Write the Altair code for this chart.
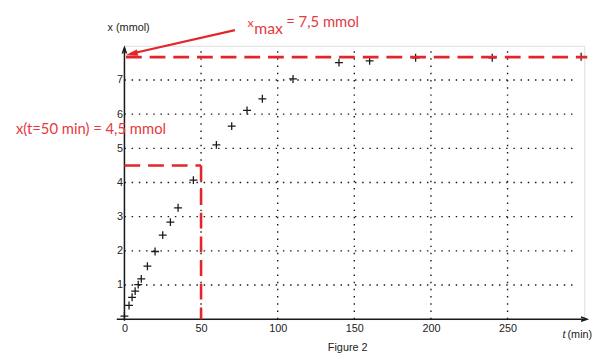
import altair as alt
import pandas as pd

# measured points (t in min, x in mmol)
t_vals = [0, 3, 5, 7, 9, 11, 15, 20, 25, 30, 35, 45, 60, 70, 80, 90, 110, 140, 160, 190, 240, 298]
x_vals = [0.09, 0.40, 0.64, 0.82, 1.01, 1.18, 1.55, 1.98, 2.46, 2.84, 3.26, 4.07, 5.10, 5.65,
          6.11, 6.45, 7.03, 7.51, 7.56, 7.65, 7.65, 7.68]

x_ticks = [0, 50, 100, 150, 200, 250]
y_ticks = [1, 2, 3, 4, 5, 6, 7]
t_grid_end = 295.5
x_grid_top = 8

x_max_line = 7.67
t_half = 50
x_half = 4.5

RED = "#e3262b"
RED_TXT = "#e5393e"
INK = "#1a1a1a"

sx = alt.Scale(domain=[0, 300], nice=False, zero=False)
sy = alt.Scale(domain=[0, 8], nice=False, zero=False)

AX = alt.Axis(values=x_ticks, domain=False, ticks=False, grid=False,
              labelFont="Liberation Sans", labelFontSize=11, labelColor="#222", labelPadding=4,
              labelFlush=False, title=None)
AY = alt.Axis(values=y_ticks, domain=False, ticks=False, grid=False,
              labelFont="Liberation Sans", labelFontSize=11, labelColor="#222", labelPadding=2,
              title=None)

pts = pd.DataFrame({"t": t_vals, "x": x_vals})

hgrid = pd.DataFrame({"x": y_ticks, "t": [0] * len(y_ticks), "t2": [t_grid_end] * len(y_ticks)})
vgrid = pd.DataFrame({"t": x_ticks[1:], "x": [0] * 5, "x2": [x_grid_top] * 5})

# axis lines (t,x -> t2,x2)
axes_df = pd.DataFrame({"t": [-5, 0], "x": [0, -0.05], "t2": [301.5, 0], "x2": [0, 7.93]})
axis_heads = pd.DataFrame({"t": [301.8, 0], "x": [0, 7.95], "a": [90, 0]})

# red dashed guides
red_lines = pd.DataFrame({
    "t": [1, 0, t_half],
    "x": [x_max_line, x_half, x_half],
    "t2": [302, t_half, t_half],
    "x2": [x_max_line, x_half, 0],
})
red_arrow = pd.DataFrame({"t": [72.1], "x": [8.46], "t2": [3.5], "x2": [7.76]})
red_head = pd.DataFrame({"t": [1.5], "x": [7.73], "a": [257]})

X = lambda f: alt.X(f, type="quantitative", scale=sx, axis=AX)
Y = lambda f: alt.Y(f, type="quantitative", scale=sy, axis=AY)

points = alt.Chart(pts).mark_point(
    shape="M-1,0L1,0M0,-1L0,1", size=64, filled=False, stroke=INK, strokeWidth=1.3, opacity=1
).encode(x=X("t"), y=Y("x"))

hg = alt.Chart(hgrid).mark_rule(color=INK, strokeWidth=1.4, strokeDash=[1.5, 5.8]).encode(
    x=X("t"), x2="t2", y=Y("x"))
vg = alt.Chart(vgrid).mark_rule(color=INK, strokeWidth=1.4, strokeDash=[1.5, 5.8]).encode(
    x=X("t"), y=Y("x"), y2="x2")

ax = alt.Chart(axes_df).mark_rule(color=INK, strokeWidth=1.5).encode(
    x=X("t"), x2="t2", y=Y("x"), y2="x2")
axh = alt.Chart(axis_heads).mark_point(
    shape="M-0.7,2L0,0L0.7,2", size=36, filled=False, stroke=INK, strokeWidth=1.5, opacity=1
).encode(x=X("t"), y=Y("x"), angle=alt.Angle("a:Q", scale=None))

rl = alt.Chart(red_lines).mark_rule(color=RED, strokeWidth=2.6, strokeDash=[16, 8]).encode(
    x=X("t"), x2="t2", y=Y("x"), y2="x2")
ra = alt.Chart(red_arrow).mark_rule(color=RED, strokeWidth=2.2).encode(
    x=X("t"), x2="t2", y=Y("x"), y2="x2")
rh = alt.Chart(red_head).mark_point(
    shape="M0,0L0.55,2L-0.55,2Z", size=121, filled=True, fill=RED, stroke=RED, strokeWidth=0.5, opacity=1
).encode(x=X("t"), y=Y("x"), angle=alt.Angle("a:Q", scale=None))

# text annotations
labels = pd.DataFrame({
    "t": [-70.8, 80.3, 84.7, 105.6],
    "x": [5.43, 8.55, 8.36, 8.55],
    "s": ["x(t=50 min) = 4,5 mmol", "x", "max", "= 7,5 mmol"],
    "fs": [15, 12.5, 16, 15],
})
red_txt = alt.Chart(labels).mark_text(
    align="left", baseline="alphabetic", font="Lato", color=RED_TXT
).encode(x=X("t"), y=Y("x"), text="s:N", size=alt.Size("fs:Q", scale=None))

blk_left = pd.DataFrame({"t": [-11, 289.1], "x": [8.42, -0.55], "s": ["x (mmol)", "(min)"]})
blk_txt = alt.Chart(blk_left).mark_text(
    align="left", baseline="alphabetic", font="Liberation Sans", fontSize=11, color="#222"
).encode(x=X("t"), y=Y("x"), text="s:N")

fig_df = pd.DataFrame({"t": [145.7], "x": [-0.94], "s": ["Figure 2"]})
fig_txt = alt.Chart(fig_df).mark_text(
    align="center", baseline="alphabetic", font="Liberation Sans", fontSize=11, color="#222"
).encode(x=X("t"), y=Y("x"), text="s:N")

t_italic = alt.Chart(pd.DataFrame({"t": [285.9], "x": [-0.55], "s": ["t"]})).mark_text(
    align="left", baseline="alphabetic", font="Liberation Serif", fontStyle="italic", fontSize=12, color="#222"
).encode(x=X("t"), y=Y("x"), text="s:N")

chart = alt.layer(hg, vg, ax, axh, points, rl, ra, rh, red_txt, blk_txt, fig_txt, t_italic).properties(
    width=466, height=277,
    padding={"left": 118, "top": 36, "right": 15, "bottom": 35},
    autosize=alt.AutoSizeParams(type="none"),
).configure_view(stroke=None).configure(background="white")

chart.save("out.html", embed_options={"renderer": "svg", "actions": False})
